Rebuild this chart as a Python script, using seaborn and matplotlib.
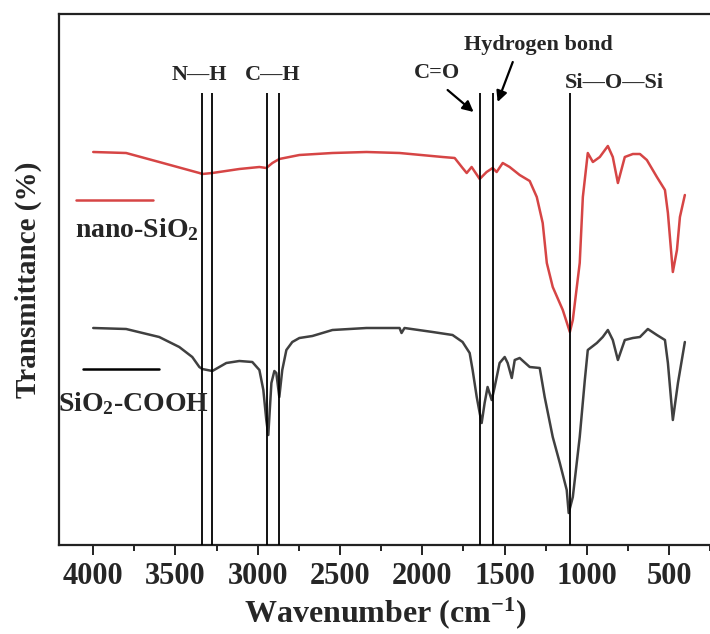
import matplotlib
matplotlib.use("Agg")
import matplotlib.pyplot as plt
from matplotlib.lines import Line2D
from matplotlib.ticker import MultipleLocator
import pandas as pd
import seaborn as sns

# ---------------- data ----------------
nano_wn = [4000, 3800, 3599, 3355, 3337, 3276, 3112, 2990, 2948, 2911, 2869, 2747,
           2546, 2339, 2138, 1876, 1803, 1755, 1730, 1700, 1651, 1609, 1572, 1548,
           1511, 1469, 1408, 1347, 1304, 1268, 1243, 1207, 1146, 1103, 1085, 1043,
           1024, 994, 963, 921, 872, 842, 811, 769, 720, 677, 635, 574, 525, 507,
           477, 452, 434, 404]
nano_t = [393, 392, 383, 372, 371, 372, 376, 378, 377, 382, 386, 390,
          392, 393, 392, 388, 387, 377, 372, 378, 366, 373, 377, 373,
          382, 378, 370, 364, 348, 322, 282, 258, 235, 213, 225, 282,
          348, 392, 383, 388, 399, 388, 362, 388, 391, 391, 385, 368, 355, 332,
          273, 295, 328, 350]

cooh_wn = [4000, 3800, 3599, 3477, 3398, 3355, 3337, 3276, 3191, 3112, 3033, 2990,
           2966, 2948, 2936, 2917, 2899, 2887, 2869, 2851, 2826, 2790, 2747, 2668,
           2546, 2339, 2138, 2126, 2108, 1937, 1816, 1755, 1712, 1694, 1669, 1651,
           1639, 1621, 1603, 1578, 1560, 1530, 1499, 1481, 1456, 1438, 1408, 1347,
           1286, 1256, 1207, 1164, 1122, 1110, 1085, 1043, 1012, 994, 939, 903,
           872, 842, 811, 769, 720, 677, 629, 574, 525, 507, 477, 446, 404]
cooh_t = [217, 216, 208, 198, 188, 178, 176, 174, 182, 184, 183, 175,
          155, 125, 110, 162, 174, 172, 148, 175, 195, 203, 207, 209,
          215, 217, 217, 212, 217, 213, 210, 203, 192, 175, 148, 132,
          122, 142, 158, 145, 158, 182, 188, 182, 167, 185, 187, 178,
          177, 148, 108, 82, 55, 32, 48, 108, 165, 195, 202, 208,
          215, 205, 185, 205, 207, 208, 216, 210, 205, 182, 125, 162, 203]

series_names = ["nano-SiO$_2$", "SiO$_2$-COOH"]

band_wn = [3339, 3278, 2946, 2873, 1649, 1570, 1103]
band_top = 452

label_text = ["N\u2014H", "C\u2014H", "C=O", "Hydrogen bond", "Si\u2014O\u2014Si"]
label_wn = [3355, 2908, 1910, 1292, 830]
label_t = [470, 470, 472, 500, 462]

arrow_tail_wn = [1846, 1450]
arrow_tail_t = [455, 483]
arrow_head_wn = [1688, 1542]
arrow_head_t = [433, 443]

xtick_values = [4000, 3500, 3000, 2500, 2000, 1500, 1000, 500]

# ---------------- style ----------------
sns.set_theme(style="white")
plt.rcParams["font.family"] = ["Liberation Serif", "DejaVu Serif"]
plt.rcParams["font.weight"] = "bold"
plt.rcParams["mathtext.fontset"] = "custom"
plt.rcParams["mathtext.rm"] = "Liberation Serif:bold"
plt.rcParams["mathtext.it"] = "Liberation Serif:bold"
plt.rcParams["mathtext.bf"] = "Liberation Serif:bold"
plt.rcParams["mathtext.default"] = "rm"

RED = "#d64545"
DARK = "#404040"

fig = plt.figure(figsize=(7.1, 6.34), dpi=100)
ax = fig.add_axes([59 / 710, 89 / 634, 653 / 710, 531 / 634])

df_nano = pd.DataFrame({"wn": nano_wn, "t": nano_t})
df_cooh = pd.DataFrame({"wn": cooh_wn, "t": cooh_t})

sns.lineplot(data=df_nano, x="wn", y="t", ax=ax, color=RED, lw=1.8, estimator=None)
sns.lineplot(data=df_cooh, x="wn", y="t", ax=ax, color=DARK, lw=1.8, estimator=None)

ax.vlines(band_wn, 0, band_top, colors="black", lw=1.3, zorder=3)

for txt, xw, yt in zip(label_text, label_wn, label_t):
    ax.text(xw, yt, txt, fontsize=16, fontweight="bold", ha="center", va="center")

for tw, tt, hw, ht in zip(arrow_tail_wn, arrow_tail_t, arrow_head_wn, arrow_head_t):
    ax.annotate("", xy=(hw, ht), xytext=(tw, tt),
                arrowprops=dict(arrowstyle="-|>", color="black", lw=1.6,
                                mutation_scale=16, shrinkA=0, shrinkB=0))

# legend-like keys
ax.add_line(Line2D([0.026, 0.144], [0.650, 0.650], transform=ax.transAxes,
                   color=RED, lw=1.8))
ax.text(0.0245, 0.593, series_names[0], transform=ax.transAxes, fontsize=20,
        fontweight="bold", ha="left", va="center")
ax.add_line(Line2D([0.037, 0.153], [0.331, 0.331], transform=ax.transAxes,
                   color="black", lw=1.8))
ax.text(-0.002, 0.267, series_names[1], transform=ax.transAxes, fontsize=20,
        fontweight="bold", ha="left", va="center")

ax.set_xlim(4208, 239)
ax.set_ylim(0, 531)
ax.set_xticks(xtick_values)
ax.set_xticklabels([str(v) for v in xtick_values])
ax.xaxis.set_minor_locator(MultipleLocator(250))
ax.tick_params(axis="x", which="major", bottom=True, direction="out", length=7,
               width=1.4, labelsize=22, pad=5, color="#222222")
ax.tick_params(axis="x", which="minor", bottom=True, direction="out", length=4,
               width=1.4, color="#222222")
for lab in ax.get_xticklabels():
    lab.set_fontweight("bold")
ax.set_yticks([])

for side in ["left", "top", "bottom"]:
    ax.spines[side].set_visible(True)
    ax.spines[side].set_linewidth(1.6)
    ax.spines[side].set_color("#222222")
ax.spines["right"].set_visible(False)

ax.set_xlabel("Wavenumber (cm$^{-1}$)", fontsize=23, fontweight="bold", labelpad=3)
ax.set_ylabel("Transmittance (%)", fontsize=21, fontweight="bold", labelpad=12)

fig.savefig("out.png", dpi=100)
